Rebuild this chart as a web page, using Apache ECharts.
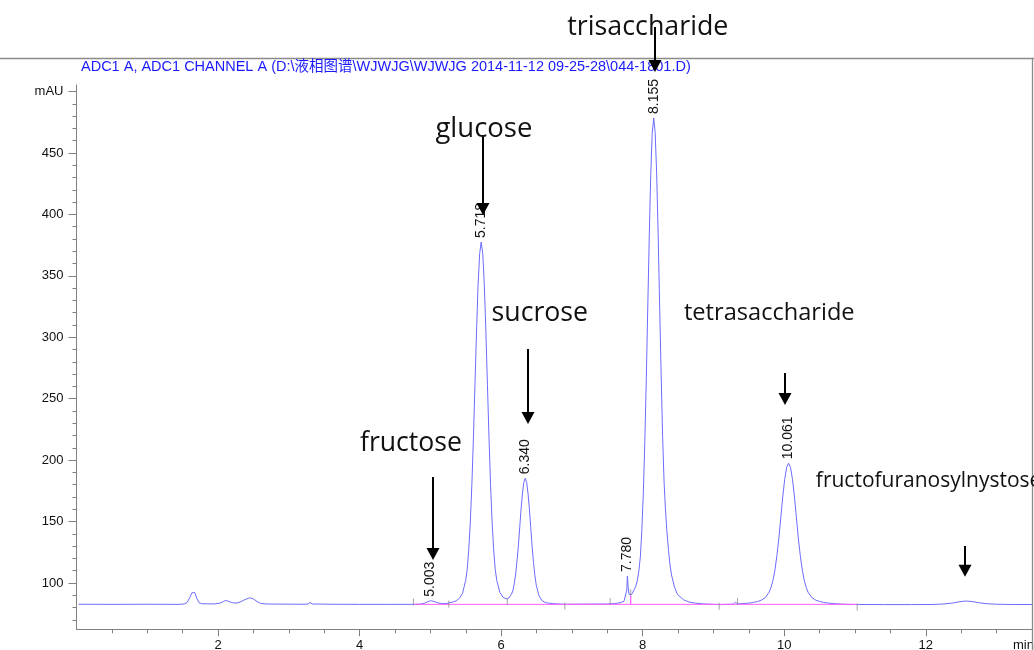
<!DOCTYPE html>
<html><head><meta charset="utf-8">
<script src="https://cdn.jsdelivr.net/npm/echarts@6/dist/echarts.min.js"></script>
<style>html,body{margin:0;padding:0;background:#fff}#c{width:1034px;height:650px}</style>
</head><body><div id="c"></div>
<script>
// ---- data (retention time in min, absorbance in mAU) ----
const signal = [
 [0.03,82.7],[0.5,82.6],[1.0,82.7],[1.45,82.6],
 [1.52,82.9],[1.56,84.0],[1.6,88.0],[1.63,92.0],[1.65,93.5],[1.67,92.2],[1.70,87.5],[1.73,84.0],[1.77,83.1],[1.85,83.0],[1.95,83.0],
 [2.03,83.6],[2.08,85.0],[2.11,85.8],[2.15,85.0],[2.2,84.0],[2.25,83.6],[2.31,84.4],[2.37,86.2],[2.43,87.6],[2.46,87.8],[2.5,87.0],[2.55,85.0],[2.6,83.4],[2.68,82.9],
 [2.9,82.8],[3.2,82.7],[3.27,82.8],[3.30,84.2],[3.33,82.9],[3.6,82.7],[4.0,82.6],[4.4,82.6],[4.76,82.6],
 [4.86,82.8],[4.92,83.6],[4.96,84.7],[5.003,85.6],[5.05,85.0],[5.10,83.9],[5.16,83.2],[5.22,83.2],
 [5.278,84.0],[5.322,84.6],[5.366,85.5],[5.41,87.5],[5.454,91.6],[5.498,102.0],[5.52,111.0],[5.542,127.0],[5.564,149.5],[5.586,180.1],[5.608,218.2],[5.63,261.7],[5.652,305.0],[5.674,342.7],[5.696,368.0],[5.718,377.5],
 [5.74,368.0],[5.762,342.7],[5.784,305.0],[5.806,261.7],[5.828,218.2],[5.85,180.1],[5.872,149.5],[5.894,127.0],[5.916,111.0],[5.938,102.0],[5.982,92.2],[6.026,88.4],[6.067,87.1],[6.106,87.7],[6.145,90.8],
 [6.165,93.8],[6.184,99.2],[6.203,106.4],[6.223,117.3],[6.243,130.2],[6.262,145.0],[6.281,160.1],[6.301,173.1],[6.32,182.0],[6.34,185.2],
 [6.36,182.0],[6.379,173.1],[6.399,160.1],[6.418,145.0],[6.437,130.0],[6.457,116.6],[6.477,106.0],[6.496,98.2],[6.535,89.5],[6.574,85.9],[6.613,84.4],[6.652,83.7],[6.73,83.2],[6.81,82.9],[6.9,82.7],
 [7.2,82.8],[7.5,82.9],[7.6,83.2],[7.651,83.6],[7.70,84.3],[7.735,85.0],[7.762,86.3],[7.774,94.0],[7.784,105.7],[7.794,96.5],[7.806,90.8],[7.825,89.6],[7.843,90.6],[7.861,92.5],[7.882,94.8],
 [7.903,97.5],[7.924,102.0],[7.945,109.5],[7.966,121.0],[7.987,142.2],[8.008,172.5],[8.029,213.4],[8.05,265.0],[8.071,323.0],[8.092,381.0],[8.113,431.8],[8.134,466.0],[8.155,478.5],
 [8.176,466.6],[8.197,433.0],[8.218,383.5],[8.239,326.2],[8.26,270.8],[8.281,219.3],[8.302,181.7],[8.323,157.9],[8.344,140.2],[8.365,126.3],[8.386,114.5],[8.407,106.5],[8.449,96.6],[8.491,90.7],
 [8.575,86.4],[8.659,84.4],[8.743,83.6],[8.85,83.0],[9.0,82.6],[9.1,82.4],[9.2,82.6],[9.28,82.8],[9.31,84.3],[9.34,83.0],
 [9.401,83.1],[9.511,83.7],[9.566,84.2],[9.621,84.9],[9.676,86.0],[9.731,88.0],[9.786,92.5],[9.814,96.6],[9.841,102.3],[9.869,110.9],[9.896,122.4],[9.924,136.7],[9.951,153.3],[9.978,170.0],[10.006,184.3],[10.034,194.1],[10.061,197.5],
 [10.088,194.1],[10.116,184.3],[10.144,170.0],[10.171,153.3],[10.198,136.7],[10.226,122.4],[10.254,110.9],[10.281,102.3],[10.309,96.6],[10.336,92.5],[10.391,88.0],[10.446,86.0],[10.501,84.9],[10.556,84.2],[10.611,83.7],[10.721,83.1],
 [10.85,82.7],[11.0,82.5],[11.4,82.4],[11.8,82.4],[12.1,82.5],[12.25,82.9],[12.38,83.7],[12.47,84.7],[12.56,85.3],[12.64,85.0],[12.74,84.0],[12.86,83.1],[13.0,82.7],[13.2,82.5],[13.5,82.5]
];
const integrationBaseline = [[4.76,82.6],[7.83,82.6],[7.83,89.6],[7.83,82.6],[11.03,82.6]];
const integrationMarks = [[4.76,84.5],[5.26,82.9],[6.086,84.8],[6.90,81.3],[7.54,85.0],[7.83,92.0],[9.08,81.0],[9.34,85.0],[11.03,80.5]];
const peakLabels = ['5.003','5.718','6.340','7.780','8.155','10.061'];
const compoundNames = ['trisaccharide','glucose','sucrose','tetrasaccharide','fructose','fructofuranosylnystose'];
const xTickLabels = [2,4,6,8,10,12];
const yTickLabels = [100,150,200,250,300,350,400,450,500];
const xUnit = 'min';
const yUnit = 'mAU';
const titleText = 'ADC1 A, ADC1 CHANNEL A (D:\\液相图谱\\WJWJG\\WJWJG 2014-11-12 09-25-28\\044-1801.D)';

// ---- chart ----
const X_MIN = 0, X_MAX = 13.5, Y_MIN = 62.3, Y_MAX = 505.3;
const gridRect = {left: 76.5, top: 85, width: 955.5, height: 544.3, containLabel: false, outerBoundsMode: 'none'};
const xMinor = []; for (let v = 0.5; v < 13.3; v += 0.5) xMinor.push(+v.toFixed(1));
const yMinor = []; for (let v = 70; v <= 500; v += 10) yMinor.push(v);
const AX = '#808080';
const LBL = {color: '#111', fontSize: 13, fontFamily: '"Liberation Sans", Arial, sans-serif'};

const chart = echarts.init(document.getElementById('c'), null, {renderer: 'canvas'});
chart.setOption({
  animation: false,
  title: {text: titleText, left: 81, top: 60, padding: 0,
    textStyle: {color: '#1a1aff', fontSize: 14.5, fontWeight: 'normal', fontFamily: '"Liberation Sans", Arial, "Noto Sans CJK SC", sans-serif'}},
  grid: [Object.assign({}, gridRect), Object.assign({}, gridRect)],
  xAxis: [
    {type: 'value', gridIndex: 0, min: X_MIN, max: X_MAX, splitLine: {show: false},
     axisLine: {onZero: false, lineStyle: {color: AX, width: 1}},
     axisTick: {customValues: xTickLabels, length: 7, lineStyle: {color: AX}},
     axisLabel: Object.assign({customValues: xTickLabels.concat([13.38]), margin: 10, hideOverlap: false,
       formatter: v => v > 13 ? xUnit : String(v)}, LBL)},
    {type: 'value', gridIndex: 1, min: X_MIN, max: X_MAX, splitLine: {show: false},
     axisLine: {show: false, onZero: false}, axisLabel: {show: false},
     axisTick: {customValues: xMinor, length: 4, lineStyle: {color: AX}}}
  ],
  yAxis: [
    {type: 'value', gridIndex: 0, min: Y_MIN, max: Y_MAX, splitLine: {show: false},
     axisLine: {show: true, onZero: false, lineStyle: {color: AX, width: 1}},
     axisTick: {show: true, customValues: yTickLabels, length: 8, lineStyle: {color: AX}},
     axisLabel: Object.assign({customValues: yTickLabels, margin: 13,
       formatter: v => v === 500 ? yUnit : String(v)}, LBL)},
    {type: 'value', gridIndex: 1, min: Y_MIN, max: Y_MAX, splitLine: {show: false},
     axisLine: {show: false, onZero: false}, axisLabel: {show: false},
     axisTick: {show: true, customValues: yMinor, length: 4, lineStyle: {color: AX}}}
  ],
  series: [
    {type: 'line', name: 'signal', xAxisIndex: 0, yAxisIndex: 0, data: signal, showSymbol: false, symbol: 'none',
     lineStyle: {color: '#6b6bff', width: 1}, z: 2},
    {type: 'line', name: 'baseline', xAxisIndex: 0, yAxisIndex: 0, data: integrationBaseline, showSymbol: false, symbol: 'none',
     lineStyle: {color: '#ff5cff', width: 1}, z: 3},
    {type: 'scatter', name: 'marks', xAxisIndex: 0, yAxisIndex: 0, data: integrationMarks, symbol: 'rect', symbolSize: [1, 7],
     itemStyle: {color: '#8c8c8c'}, z: 4}
  ]
});

// ---- annotations placed in data coordinates ----
const toPx = (t, v) => chart.convertToPixel({xAxisIndex: 0, yAxisIndex: 0}, [t, v]);
const annotations = [
  {text: compoundNames[0], at: [8.072, 552.5], size: 26.8, align: 'center', arrow: [8.171, 552.5, 515.9]},
  {text: compoundNames[1], at: [5.756, 469.5], size: 27.5, align: 'center', arrow: [5.742, 463.0, 399.5]},
  {text: compoundNames[2], at: [6.546, 319.7], size: 26.7, align: 'center', arrow: [6.377, 290.4, 229.4]},
  {text: compoundNames[3], at: [9.788, 319.7], size: 23.6, align: 'center', arrow: [10.007, 270.9, 244.8]},
  {text: compoundNames[4], at: [4.725, 213.9], size: 26.6, align: 'center', arrow: [5.035, 186.2, 118.7]},
  {text: compoundNames[5], at: [10.446, 183.0], size: 21, align: 'left', arrow: [12.549, 130.1, 105.1]}
];
const graphics = [];
// frame
graphics.push({type: 'line', shape: {x1: 0, y1: 58.5, x2: 1034, y2: 58.5}, style: {stroke: '#8a8a8a', lineWidth: 1.3}, z: 1});
graphics.push({type: 'line', shape: {x1: 1032.5, y1: 58, x2: 1032.5, y2: 650}, style: {stroke: '#8a8a8a', lineWidth: 1.3}, z: 1});
// retention-time labels above each apex (apex read from the signal data)
peakLabels.forEach(lbl => {
  const t0 = parseFloat(lbl);
  let best = null;
  signal.forEach(p => { if (Math.abs(p[0] - t0) < 0.04 && (!best || p[1] > best[1])) best = p; });
  const p = toPx(best[0], best[1]);
  graphics.push({type: 'text', x: p[0], y: p[1] - 4, rotation: Math.PI / 2, z: 20,
    style: {text: lbl, x: 0, y: 0, align: 'left', verticalAlign: 'middle', fill: '#111', fontSize: 14,
      fontFamily: '"Liberation Sans", Arial, sans-serif'}});
});
annotations.forEach(a => {
  const p = toPx(a.at[0], a.at[1]);
  graphics.push({type: 'text', x: p[0], y: p[1], z: 30,
    style: {text: a.text, x: 0, y: 0, align: a.align, verticalAlign: 'middle', fill: '#111', fontSize: a.size,
      fontFamily: '"Open Sans", "Noto Sans", sans-serif'}});
  const top = toPx(a.arrow[0], a.arrow[1]);
  const tip = toPx(a.arrow[0], a.arrow[2]);
  const x = Math.round(top[0]);
  graphics.push({type: 'line', z: 40, shape: {x1: x, y1: top[1], x2: x, y2: tip[1] - 10}, style: {stroke: '#000', lineWidth: 2}});
  graphics.push({type: 'polygon', z: 40, shape: {points: [[x - 6.5, tip[1] - 12], [x + 6.5, tip[1] - 12], [x, tip[1]]]}, style: {fill: '#000'}});
});
chart.setOption({graphic: graphics});
</script>
</body></html>
